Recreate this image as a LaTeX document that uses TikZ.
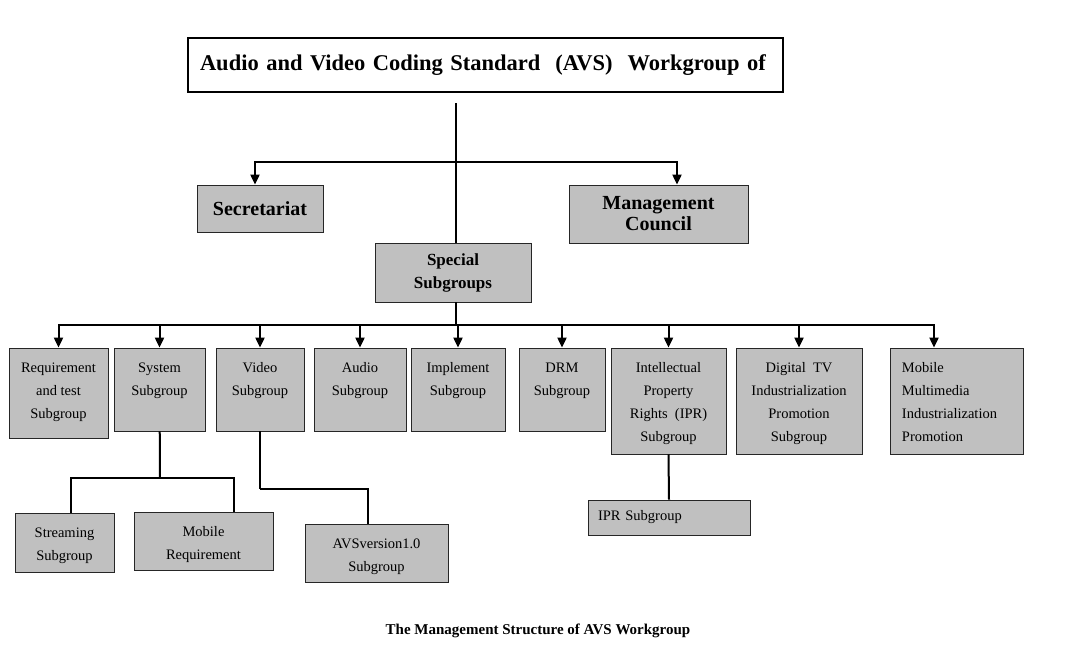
\documentclass[tikz,border=0pt]{standalone}
\usepackage{fontspec}
\setmainfont{Liberation Serif}
\usetikzlibrary{arrows.meta}
\definecolor{boxgray}{RGB}{192,192,192}
\begin{document}
\begin{tikzpicture}[x=1pt,y=-1pt]
        \tikzstyle{subbox}=[draw=black!85,line width=0.8pt,fill=boxgray,inner sep=0pt]
        \tikzstyle{txt}=[anchor=north,align=center,inner xsep=0pt,inner ysep=15pt,font=\fontsize{14.5}{23}\selectfont]
        \tikzstyle{head}=[subbox,align=center,font=\bfseries\fontsize{20}{21}\selectfont]
        \tikzstyle{edge}=[draw,line width=2pt,-{Triangle[width=9pt,length=10pt]}]
        \tikzstyle{link}=[draw,line width=2pt]
        \useasboundingbox (0,0) rectangle (1069,664);
        \begin{scope}
            \node [draw=black,line width=1.6pt,text width=583pt,inner xsep=6pt,minimum height=54pt,align=left,font=\bfseries\fontsize{22.5}{24}\selectfont] (wg) at (485.5,65) {\hspace*{6pt}Audio and Video Coding Standard\ \ (AVS)\ \ Workgroup of};
            \node [head,minimum width=126pt,minimum height=47pt] (sec) at (260,208.5) {Secretariat};
            \node [head,minimum width=179pt,minimum height=58pt] (mc) at (658.5,214) {Management\\Council};
            \node [head,minimum width=156pt,minimum height=59pt,font=\bfseries\fontsize{17}{23}\selectfont] (sp) at (453,272.5) {Special\\Subgroups};
            \node [subbox,minimum width=99pt,minimum height=90pt,label={[txt]north:{Requirement\\and test\\Subgroup}}] (req) at (58.5,393) {};
            \node [subbox,minimum width=91pt,minimum height=83pt,label={[txt]north:{System\\Subgroup}}] (sys) at (159.5,389.5) {};
            \node [subbox,minimum width=88pt,minimum height=83pt,label={[txt]north:{Video\\Subgroup}}] (vid) at (260,389.5) {};
            \node [subbox,minimum width=92pt,minimum height=83pt,label={[txt]north:{Audio\\Subgroup}}] (aud) at (360,389.5) {};
            \node [subbox,minimum width=94pt,minimum height=83pt,label={[txt]north:{Implement\\Subgroup}}] (imp) at (458,389.5) {};
            \node [subbox,minimum width=86pt,minimum height=83pt,label={[txt]north:{DRM\\Subgroup}}] (drm) at (562,389.5) {};
            \node [subbox,minimum width=115pt,minimum height=106pt,label={[txt]north:{Intellectual\\Property\\Rights\ \ (IPR)\\Subgroup}}] (ipr) at (668.5,401) {};
            \node [subbox,minimum width=126pt,minimum height=106pt,label={[txt]north:{Digital\ \ TV\\Industrialization\\Promotion\\Subgroup}}] (dtv) at (799,401) {};
            \node [subbox,minimum width=133pt,minimum height=106pt,label={[txt,align=left,xshift=-7pt]north:{Mobile\\Multimedia\\Industrialization\\Promotion}}] (mob) at (956.5,401) {};
            \node [subbox,minimum width=99pt,minimum height=59pt,label={[txt]north:{Streaming\\Subgroup}}] (str) at (64.5,542.5) {};
            \node [subbox,minimum width=139pt,minimum height=58pt,label={[txt]north:{Mobile\\Requirement}}] (mreq) at (203.5,541) {};
            \node [subbox,minimum width=143pt,minimum height=58pt,label={[txt]north:{AVSversion1.0\\Subgroup}}] (avs) at (376.5,553) {};
            \node [subbox,text width=142pt,inner xsep=10pt,minimum height=35pt,align=left,font=\fontsize{14.5}{23}\selectfont] (iprs) at (669,517.5) {IPR Subgroup};
            \node [font=\bfseries\fontsize{15}{17}\selectfont] (cap) at (538,631) {The Management Structure of AVS Workgroup};
            \coordinate (top) at (456,103);
            \coordinate (j1) at (456,162);
            \coordinate (j2) at (456,325);
            \coordinate (j3) at (160,478);
            \coordinate (j4) at (260,489);
            \path[link] (top) -- (top |- sp.north);
            \path[edge] (j1) -| ([xshift=-5pt]sec.north);
            \path[edge] (j1) -| ([xshift=18.5pt]mc.north);
            \path[link] (j2 |- sp.south) -- (j2);
            \foreach \n in {req,sys,vid,aud,imp,drm,ipr,dtv}
                \path[edge] (j2) -| (\n);
            \path[edge] (j2) -| ([xshift=-22.5pt]mob.north);
            \path[link] (sys) -- (j3);
            \path[link] (j3) -| ([xshift=6.5pt]str.north);
            \path[link] (j3) -| ([xshift=30.5pt]mreq.north);
            \path[link] (vid) -- (j4);
            \path[link] (j4) -| ([xshift=-8.5pt]avs.north);
            \path[link] (ipr.south) -- (iprs.north);
        \end{scope}
\end{tikzpicture}
\end{document}
